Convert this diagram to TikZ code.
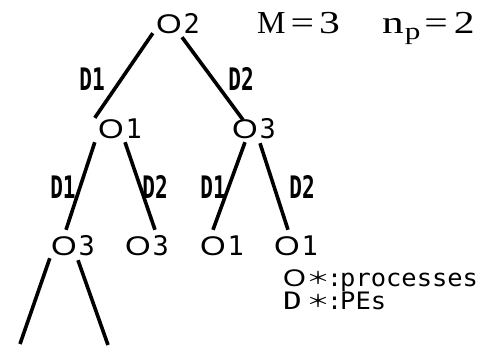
\documentclass[tikz,border=0pt]{standalone}
\usepackage{fontspec}
\usepackage{graphicx}
\usetikzlibrary{calc}
\setmainfont{Liberation Serif}
\newfontfamily\monofam{DejaVu Sans Mono}
\newfontfamily\sansfam{Liberation Sans}
\newfontfamily\cjkfam{Noto Sans CJK JP}
% round process letter
\newcommand\procO{{\sansfam\scalebox{1.22}[1]{O}}}
\newcommand\proc[1]{\makebox[40pt]{\procO\hspace{2pt}{\monofam #1}}}
\newcommand\pe[1]{\scalebox{0.68}[1]{\monofam\bfseries D#1}}
\newcommand\wide[1]{\scalebox{1.3}[1]{#1}}
\newcommand\wildcard{\raisebox{2pt}[13pt][0pt]{\scalebox{1}[0.72]{\cjkfam\fontsize{24}{24}\selectfont ＊}}}
\newcommand\legkey[1]{\makebox[24pt][l]{#1}\makebox[22pt]{\wildcard}\makebox[11pt]{:}}
\tikzset{
  onode/.style={inner sep=0pt, minimum width=40pt, minimum height=20pt,
    text height=19pt, text depth=0pt, font=\fontsize{27}{27}\selectfont},
  dlabel/.style={inner sep=0pt, text height=22pt, text depth=0pt,
    font=\fontsize{31}{31}\selectfont},
  edge/.style={line width=3.6pt},
  legend/.style={anchor=base west, inner sep=0pt, text height=16pt, text depth=3pt,
    font=\monofam\fontsize{24}{24}\selectfont},
  param/.style={anchor=base west, inner sep=0pt, font=\fontsize{32}{32}\selectfont}
}
\begin{document}
\begin{tikzpicture}[x=1pt, y=-1pt]
\useasboundingbox (0,0) rectangle (493,354);

% process tree
\node[onode] (o2)  at (178,24)  {\proc{2}};
\node[onode] (o1a) at (120,129) {\proc{1}};
\node[onode] (o3a) at (254,129) {\proc{3}};
\node[onode] (o3b) at (73,246)  {\proc{3}};
\node[onode] (o3c) at (147,246) {\proc{3}};
\node[onode] (o1b) at (222,246) {\proc{1}};
\node[onode] (o1c) at (296,246) {\proc{1}};
\coordinate (leafL) at (20,344);
\coordinate (leafR) at (108,345);

% PE labels on the branches
\node[dlabel] (d1a) at (92,79)   {\pe{1}};
\node[dlabel] (d2a) at (241,79)  {\pe{2}};
\node[dlabel] (d1b) at (63,187)  {\pe{1}};
\node[dlabel] (d2b) at (155,187) {\pe{2}};
\node[dlabel] (d1c) at (213,187) {\pe{1}};
\node[dlabel] (d2c) at (302,187) {\pe{2}};

% branches
\draw[edge] ($(o2.south west)+(-5,-1)$) -- ($(o1a.north west)+(-5,-1)$);
\draw[edge] ($(o2.south)+(4,3)$) -- ($(o3a.north)+(-11,1)$);
\draw[edge] ($(o1a.south west)+(-5,3)$) -- ($(o3b.north)+(-7,-6)$);
\draw[edge] ($(o1a.south)+(5,3)$) -- ($(o3c.north)+(8,-6)$);
\draw[edge] ($(o3a.south)+(-9,3)$) -- ($(o1b.north)+(-9,-6)$);
\draw[edge] ($(o3a.south)+(6,4)$) -- ($(o1c.north)+(-8,-6)$);
\draw[edge] ($(o3b.south west)+(-3,2)$) -- (leafL);
\draw[edge] ($(o3b.south)+(5,4)$) -- (leafR);

% parameters
\node[param] (pm) at (257,33) {M\hspace{5pt}\wide{=}\hspace{5pt}\wide{3}};
\node[param] (pn) at (382,33) {\scalebox{1.35}[1]{n}\hspace{1pt}\raisebox{-6pt}{\fontsize{24}{24}\selectfont\wide{p}}\hspace{4pt}\wide{=}\hspace{6pt}\wide{2}};

% legend
\node[legend] (lg1) at (283,286) {\legkey{\procO}\scalebox{1.06}[1]{processes}};
\node[legend] (lg2) at (283,309) {\legkey{\scalebox{1.3}[1]{D}}\scalebox{1.06}[1]{PEs}};
\end{tikzpicture}
\end{document}
